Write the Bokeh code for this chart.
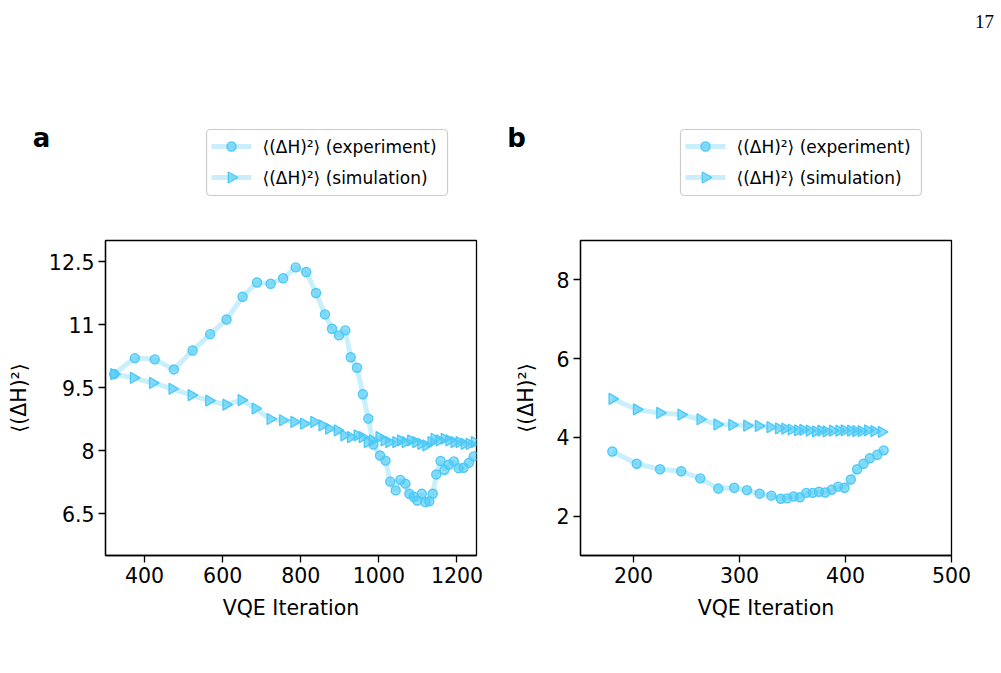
import math
from bokeh.plotting import figure
from bokeh.layouts import row, column
from bokeh.models import FixedTicker, Range1d
from bokeh.core.properties import value
from bokeh.embed import file_html
from bokeh.resources import INLINE

# ---- panel a: long VQE run ----
a_exp_x = [322, 375, 426, 475, 523, 568, 610, 651, 688, 723, 755, 787, 814, 839, 862,
           880, 898, 914, 928, 944, 959, 973, 986, 1003, 1017, 1029, 1043, 1055, 1068,
           1078, 1089, 1098, 1110, 1119, 1129, 1138, 1147, 1158, 1168, 1179, 1192, 1204,
           1217, 1231, 1243]
a_exp_y = [9.82, 10.2, 10.17, 9.93, 10.38, 10.77, 11.12, 11.66, 12.0, 11.97, 12.1, 12.36,
           12.25, 11.75, 11.24, 10.9, 10.74, 10.86, 10.22, 9.97, 9.34, 8.76, 8.14, 7.88,
           7.76, 7.26, 7.05, 7.30, 7.21, 6.97, 6.90, 6.81, 6.97, 6.77, 6.79, 6.97, 7.43,
           7.75, 7.54, 7.66, 7.74, 7.58, 7.59, 7.71, 7.86]
a_sim_x = [322, 372, 421, 471, 520, 565, 609, 648, 684, 722, 754, 783, 808, 834, 855,
           872, 894, 911, 928, 945, 958, 971, 984, 1001, 1014, 1026, 1044, 1056, 1068,
           1082, 1095, 1108, 1121, 1134, 1142, 1155, 1168, 1180, 1193, 1206, 1219, 1232,
           1245]
a_sim_y = [9.82, 9.73, 9.61, 9.47, 9.32, 9.19, 9.09, 9.2, 9.0, 8.75, 8.72, 8.68, 8.64,
           8.68, 8.60, 8.52, 8.48, 8.36, 8.32, 8.36, 8.32, 8.20, 8.24, 8.32, 8.24, 8.20,
           8.20, 8.24, 8.20, 8.24, 8.20, 8.16, 8.12, 8.20, 8.28, 8.24, 8.28, 8.24, 8.20,
           8.20, 8.16, 8.16, 8.20]
a_xticks = [400, 600, 800, 1000, 1200]
a_yticks = [6.5, 8, 9.5, 11, 12.5]
a_ytick_labels = ["6.5", "8", "9.5", "11", "12.5"]

# ---- panel b: short VQE run ----
b_exp_x = [180, 203, 225, 245, 263, 280, 295, 307, 319, 330, 339, 345, 351, 357, 363,
           369, 375, 381, 387, 393, 399, 405, 411, 417, 423, 430, 436]
b_exp_y = [3.64, 3.33, 3.19, 3.14, 2.96, 2.70, 2.72, 2.66, 2.57, 2.52, 2.44, 2.45, 2.50,
           2.48, 2.59, 2.59, 2.62, 2.60, 2.67, 2.75, 2.72, 2.93, 3.19, 3.33, 3.47, 3.56,
           3.67]
b_sim_x = [180, 203, 225, 245, 263, 279, 293, 307, 318, 329, 337, 343, 349, 355, 360,
           366, 372, 377, 382, 388, 394, 399, 405, 410, 415, 421, 427, 434]
b_sim_y = [4.98, 4.71, 4.62, 4.58, 4.46, 4.33, 4.32, 4.30, 4.29, 4.26, 4.23, 4.22, 4.20,
           4.18, 4.19, 4.17, 4.15, 4.17, 4.15, 4.17, 4.17, 4.18, 4.17, 4.16, 4.16, 4.18,
           4.16, 4.14]
b_xticks = [200, 300, 400, 500]
b_yticks = [2, 4, 6, 8]
b_ytick_labels = ["2", "4", "6", "8"]

panel_tags = ["a", "b"]
page_number = ["17"]
legend_labels = ["\u27e8(\u0394H)\u00b2\u27e9 (experiment)",
                 "\u27e8(\u0394H)\u00b2\u27e9 (simulation)"]
ylabel = "\u27e8(\u0394H)\u00b2\u27e9"

COLOR = "#4dc9f6"
FONT = "DejaVu Sans"
TICK_SIZE = "20.5px"
STRIP_H = 220
PLOT_H = 673 - STRIP_H

LINE_STYLE = dict(line_color=COLOR, line_alpha=0.3, line_width=5)
MARK_STYLE = dict(fill_color=COLOR, fill_alpha=0.6, line_color=COLOR, line_width=1.4)
CIRCLE_STYLE = dict(marker="circle", size=9, **MARK_STYLE)
TRI_STYLE = dict(marker="triangle", size=11, angle=-math.pi / 2, **MARK_STYLE)


def style_axes(p, xticks, yticks, ylabels):
    p.xgrid.visible = False
    p.ygrid.visible = False
    p.outline_line_color = "black"
    p.outline_line_width = 1.3
    p.xaxis.ticker = FixedTicker(ticks=xticks)
    p.yaxis.ticker = FixedTicker(ticks=yticks)
    p.yaxis.major_label_overrides = {t: s for t, s in zip(yticks, ylabels)}
    for ax in (p.xaxis[0], p.yaxis[0]):
        ax.axis_line_width = 1.3
        ax.major_tick_line_width = 1.3
        ax.major_tick_out = 7
        ax.major_tick_in = 0
        ax.minor_tick_out = 0
        ax.minor_tick_in = 0
        ax.major_label_text_font = FONT
        ax.major_label_text_font_size = TICK_SIZE
        ax.major_label_text_color = "black"
        ax.major_label_standoff = 4
        ax.axis_label_text_font = FONT
        ax.axis_label_text_font_size = TICK_SIZE
        ax.axis_label_text_font_style = "normal"
        ax.axis_label_text_color = "black"
    p.xaxis.axis_label = "VQE Iteration"
    p.xaxis.axis_label_standoff = 10
    p.yaxis.axis_label = ylabel
    p.yaxis.axis_label_standoff = 15


def panel(width, left, right, xr, yr, ex, ey, sx, sy, xticks, yticks, ylabels):
    p = figure(width=width, height=PLOT_H, output_backend="svg", toolbar_location=None,
               x_range=Range1d(*xr), y_range=Range1d(*yr),
               min_border_left=left, min_border_right=right,
               min_border_top=240 - STRIP_H, min_border_bottom=118)
    p.border_fill_color = "white"
    style_axes(p, xticks, yticks, ylabels)
    p.line(ex, ey, **LINE_STYLE)
    p.scatter(ex, ey, **CIRCLE_STYLE)
    p.line(sx, sy, **LINE_STYLE)
    p.scatter(sx, sy, **TRI_STYLE)
    return p


pa = panel(500, 105, 24, (300, 1250), (5.5, 13.0), a_exp_x, a_exp_y, a_sim_x, a_sim_y,
           a_xticks, a_yticks, a_ytick_labels)
pb = panel(501, 80, 50, (150, 500), (1.0, 9.0), b_exp_x, b_exp_y, b_sim_x, b_sim_y,
           b_xticks, b_yticks, b_ytick_labels)

# header strip in pixel units: panel tags, page number and the two legend boxes
top = figure(width=1001, height=STRIP_H, output_backend="svg", toolbar_location=None,
             x_range=Range1d(0, 1001), y_range=Range1d(STRIP_H, 0),
             x_axis_type=None, y_axis_type=None, min_border=0)
top.outline_line_color = None
top.xgrid.visible = False
top.ygrid.visible = False

top.text(x=[41, 516], y=[137, 137], text=panel_tags, text_font=value(FONT),
         text_font_style="bold", text_font_size="26px", text_align="center",
         text_baseline="middle", text_color="black")
top.text(x=[984], y=[21], text=page_number, text_font=value("Liberation Serif"),
         text_font_size="19px", text_align="center", text_baseline="middle",
         text_color="black")

LEG_W, LEG_TOP, LEG_BOTTOM = 241, 129, 195
ROW_Y = [146, 177]
for lx in (206, 680):
    top.quad(left=[lx], right=[lx + LEG_W], top=[LEG_TOP], bottom=[LEG_BOTTOM],
             fill_color="white", fill_alpha=0.9, line_color="#cccccc", line_width=1.2,
             border_radius=4)
    for ry in ROW_Y:
        top.line(x=[lx + 5, lx + 45], y=[ry, ry], **LINE_STYLE)
    top.scatter(x=[lx + 25], y=[ROW_Y[0]], **CIRCLE_STYLE)
    top.scatter(x=[lx + 25], y=[ROW_Y[1]], **TRI_STYLE)
    top.text(x=[lx + 56, lx + 56], y=ROW_Y, text=legend_labels, text_font=value(FONT),
             text_font_size="17px", text_align="left", text_baseline="middle",
             text_color="black")

layout = column(top, row(pa, pb, spacing=0), spacing=0)
open("out.html", "w").write(file_html(layout, INLINE))
